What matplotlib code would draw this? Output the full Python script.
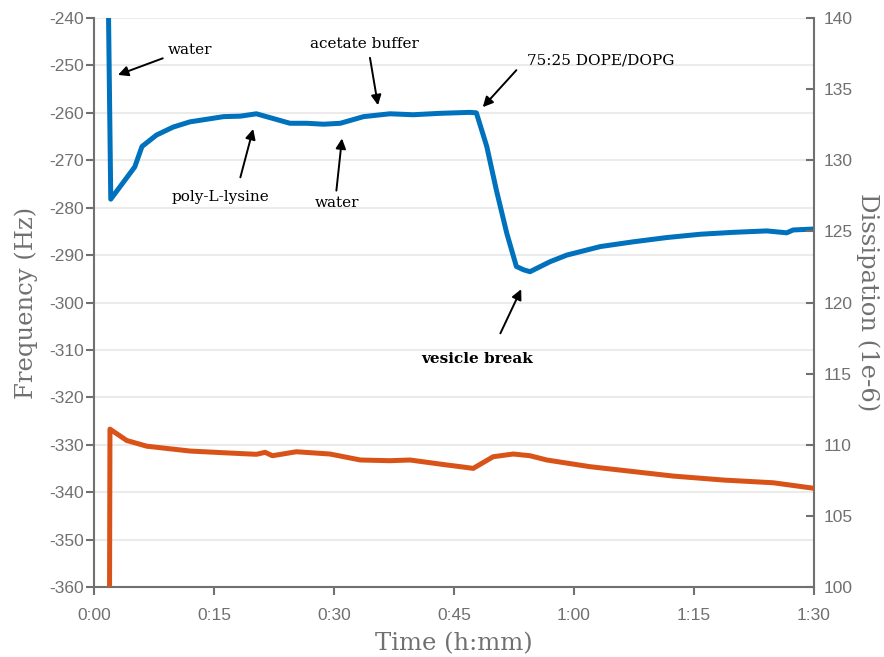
import numpy as np
import matplotlib
matplotlib.use('Agg')
import matplotlib.pyplot as plt
from matplotlib.ticker import FuncFormatter

# Frequency trace (blue, left axis) - time in minutes, Hz
freq_t = [1.75, 2.1, 5.1, 6.0, 7.8, 9.9, 12.0, 16.2, 18.3, 20.3, 22.4, 24.5,
          26.6, 28.7, 30.8, 33.7, 37.0, 39.9, 43.3, 47.0, 47.8, 49.1, 50.3,
          51.6, 52.8, 53.7, 54.5, 57.0, 59.1, 63.3, 67.4, 71.6, 75.8, 79.9,
          84.1, 86.6, 87.4, 90.0]
freq_f = [-230.0, -278.2, -271.4, -267.1, -264.7, -263.0, -261.9, -260.8,
          -260.7, -260.2, -261.2, -262.2, -262.2, -262.4, -262.2, -260.8,
          -260.2, -260.4, -260.1, -259.9, -260.0, -267.1, -276.3, -285.4,
          -292.4, -293.1, -293.5, -291.4, -290.0, -288.2, -287.2, -286.3,
          -285.6, -285.2, -284.9, -285.3, -284.7, -284.5]

# Dissipation trace (orange, right axis) - 1e-6
diss_t = [1.9, 2.0, 4.1, 6.6, 12.0, 16.2, 20.3, 21.4, 22.3, 25.3, 29.5, 33.3,
          37.0, 39.5, 44.1, 45.8, 47.4, 49.9, 52.4, 54.5, 56.6, 62.0, 68.3,
          72.4, 78.7, 84.9, 87.0, 90.0]
diss_d = [90.0, 111.1, 110.3, 109.9, 109.56, 109.44, 109.33, 109.47, 109.23,
          109.51, 109.35, 108.93, 108.88, 108.93, 108.58, 108.46, 108.34,
          109.16, 109.35, 109.23, 108.93, 108.46, 108.06, 107.8, 107.52,
          107.33, 107.17, 106.94]

# Annotations: label, text position (t, f), arrow tail (t, f), arrow tip (t, f), bold
notes = [
    ('water', (12.0, -246.8), (8.6, -248.5), (3.0, -252.0), False),
    ('poly-L-lysine', (15.8, -277.8), (18.3, -273.6), (19.9, -263.4), False),
    ('water', (30.4, -279.1), (30.3, -276.4), (31.0, -265.4), False),
    ('acetate buffer', (33.8, -245.5), (34.5, -248.4), (35.5, -258.4), False),
    ('75:25 DOPE/DOPG', (63.3, -248.9), (52.8, -251.0), (48.6, -258.8), False),
    ('vesicle break', (47.9, -311.9), (50.8, -306.5), (53.4, -297.2), True),
]

blue = '#0072BD'
orange = '#D95319'
gray = '#707070'

fig = plt.figure(figsize=(8.84, 6.57), dpi=100)
ax = fig.add_axes([0.1063, 0.1065, 0.8145, 0.8661])
ax2 = ax.twinx()

ax.plot(freq_t, freq_f, color=blue, lw=3.6, solid_joinstyle='round', zorder=3)
ax2.plot(diss_t, diss_d, color=orange, lw=3.6, solid_joinstyle='round', zorder=3)

ax.set_xlim(0, 90)
ax.set_ylim(-360, -240)
ax2.set_ylim(100, 140)
ax.set_xticks(np.arange(0, 91, 15))
ax.set_yticks(np.arange(-360, -239, 10))
ax2.set_yticks(np.arange(100, 141, 5))
ax.xaxis.set_major_formatter(FuncFormatter(lambda v, p: '%d:%02d' % (v // 60, v % 60)))
ax.yaxis.set_major_formatter(FuncFormatter(lambda v, p: '%d' % v))

ax.grid(axis='y', color='#ebebeb', lw=1.5, zorder=0)
ax.set_axisbelow(True)

for a in (ax, ax2):
    a.spines['top'].set_visible(False)
    for s in a.spines.values():
        s.set_color(gray)
        s.set_linewidth(1.5)
ax.spines['right'].set_visible(False)
ax2.spines['left'].set_visible(False)
ax2.spines['bottom'].set_visible(False)

ax.tick_params(axis='both', direction='out', length=6, width=1.5, color=gray,
               labelcolor=gray, labelsize=12.5)
ax.tick_params(axis='x', pad=9)
ax.tick_params(axis='y', pad=1.5)
ax2.tick_params(axis='y', direction='in', length=6, width=1.5, color=gray,
                labelcolor=gray, labelsize=12.5, pad=7)
for lab in ax.get_xticklabels() + ax.get_yticklabels() + ax2.get_yticklabels():
    lab.set_family(['Liberation Sans', 'DejaVu Sans'])

serif = ['DejaVu Serif']
ax.set_xlabel('Time (h:mm)', color=gray, fontsize=17.5, family=serif, labelpad=7)
ax.set_ylabel('Frequency (Hz)', color=gray, fontsize=17.5, family=serif, labelpad=8)
ax2.set_ylabel('Dissipation (1e-6)', color=gray, fontsize=17.5, family=serif,
               rotation=270, labelpad=19)

for label, txt, tail, tip, bold in notes:
    ax.text(txt[0], txt[1], label, ha='center', va='center', fontsize=11,
            family=serif, fontweight='bold' if bold else 'normal', color='black')
    ax.annotate('', xy=tip, xytext=tail,
                arrowprops=dict(arrowstyle='-|>', color='black', lw=1.4,
                                mutation_scale=15, shrinkA=0, shrinkB=0))

fig.savefig('out.png', dpi=100)
